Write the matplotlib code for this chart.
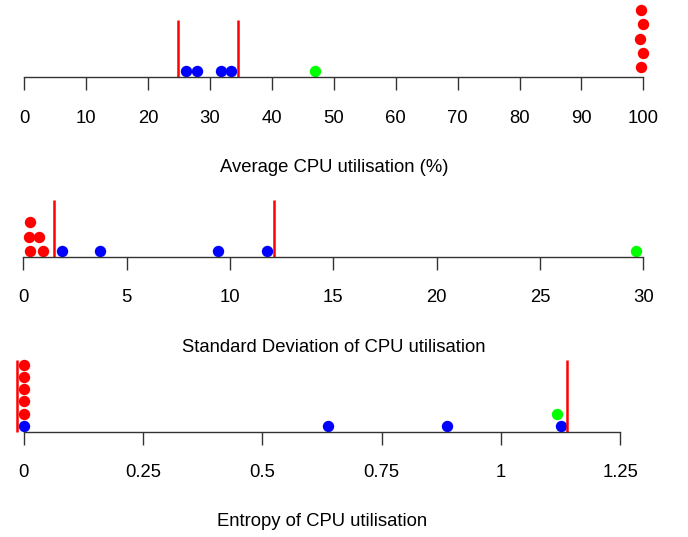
import matplotlib
matplotlib.use("Agg")
import matplotlib.pyplot as plt

plt.rcParams['font.family'] = ['Liberation Sans', 'DejaVu Sans']

# panel 1: average CPU utilisation (%)
avg_red = [99.7, 100.0, 99.5, 99.9, 99.6]
avg_red_lvl = [0, 1, 2, 3, 4]
avg_blue = [26.2, 27.9, 31.7, 33.4]
avg_green = [47.0]
avg_lines = [24.9, 34.6]
avg_ticks = [0, 10, 20, 30, 40, 50, 60, 70, 80, 90, 100]

# panel 2: standard deviation of CPU utilisation
sd_red = [0.34, 0.97, 0.29, 0.77, 0.34]
sd_red_lvl = [0, 0, 1, 1, 2]
sd_blue = [1.86, 3.71, 9.44, 11.77]
sd_green = [29.63]
sd_lines = [1.50, 12.13]
sd_ticks = [0, 5, 10, 15, 20, 25, 30]

# panel 3: entropy of CPU utilisation
ent_red = [0, 0, 0, 0, 0]
ent_red_lvl = [1, 2, 3, 4, 5]
ent_blue = [0.0, 0.637, 0.887, 1.126]
ent_green = [1.118]
ent_green_lvl = [1]
ent_lines = [-0.015, 1.139]
ent_ticks = [0, 0.25, 0.5, 0.75, 1, 1.25]
ent_labels = ['0', '0.25', '0.5', '0.75', '1', '1.25']

W, H = 688, 537
fig = plt.figure(figsize=(W / 100, H / 100), dpi=100)
FS = 13.3


def panel(axis_y, x0, x1, xmax, red, red_lvl, red_base, blue, green, green_lvl,
          lines, ticks, labels, title, title_y, step, line_h):
    top = axis_y
    ax = fig.add_axes([x0 / W, (H - axis_y) / H, (x1 - x0) / W, top / H])
    ax.set_xlim(0, xmax)
    ax.set_ylim(0, top)
    ms = 8.2
    ax.plot(red, [red_base + l * step for l in red_lvl], 'o', color='#ff0000',
            ms=ms, mec='none', clip_on=False)
    ax.plot(blue, [6] * len(blue), 'o', color='#0000ff',
            ms=ms, mec='none', clip_on=False)
    ax.plot(green, [6 + l * step for l in green_lvl], 'o', color='#00ff00',
            ms=ms, mec='none', clip_on=False)
    for v in lines:
        ax.plot([v, v], [0, line_h], color='#ff0000', lw=1.8,
                solid_capstyle='butt', clip_on=False)
    for s in ['top', 'left', 'right']:
        ax.spines[s].set_visible(False)
    ax.spines['bottom'].set_color('#333333')
    ax.spines['bottom'].set_linewidth(1.0)
    ax.set_yticks([])
    ax.set_xticks(ticks)
    ax.set_xticklabels(labels, fontsize=FS)
    ax.tick_params(axis='x', length=9.5, width=1.0, color='#333333',
                   pad=14)
    ax.patch.set_visible(False)
    fig.text((x0 + x1) / 2 / W, 1 - title_y / H, title, fontsize=FS,
             ha='center', va='center')


panel(77.3, 24.3, 643.3, 100, avg_red, avg_red_lvl, 10, avg_blue, avg_green,
      [0], avg_lines, avg_ticks, [str(t) for t in avg_ticks],
      'Average CPU utilisation (%)', 168, 14.3, 57)
panel(256.7, 23.3, 643.3, 30, sd_red, sd_red_lvl, 6, sd_blue, sd_green, [0],
      sd_lines, sd_ticks, [str(t) for t in sd_ticks],
      'Standard Deviation of CPU utilisation', 348, 14.2, 57)
panel(431.7, 23.7, 620.3, 1.25, ent_red, ent_red_lvl, 6, ent_blue, ent_green,
      ent_green_lvl, ent_lines, ent_ticks, ent_labels,
      'Entropy of CPU utilisation', 521, 12.2, 72)

fig.savefig('out.png', dpi=100)
